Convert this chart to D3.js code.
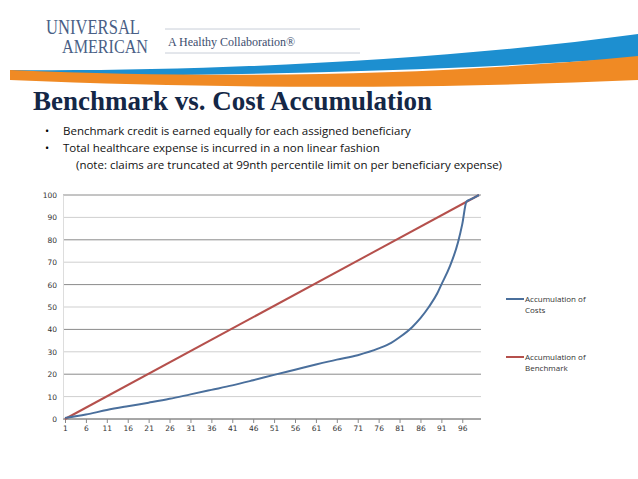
<!DOCTYPE html>
<html>
<head>
<meta charset="utf-8">
<script src="https://d3js.org/d3.v7.min.js"></script>
<style>
  body { margin: 0; background: #fff; }
</style>
</head>
<body>
<div id="chartHere"></div>
<script>
// data
var xTicks = [1,6,11,16,21,26,31,36,41,46,51,56,61,66,71,76,81,86,91,96];
var costX = [1,6,11,16,21,26,31,36,41,46,51,56,61,66,71,76,79,81,84,86,88,90,91,93,95,96,97,98,100];
var costY = [0.5,2,4,5.7,7.3,9,11,13,15,17.3,19.7,22,24.3,26.5,28.5,31.5,34,36.5,41,45,50,56,60,68,79,87,97,98,100];
var benchX = [1,100];
var benchY = [0,100];
var yTicks = [0,10,20,30,40,50,60,70,80,90,100];
var bullets = ["Benchmark credit is earned equally for each assigned beneficiary",
               "Total healthcare expense is incurred in a non linear fashion"];

var W = 638, H = 479;
var svg = d3.select("#chartHere").append("svg").attr("width", W).attr("height", H);

// header swoosh
svg.append("path")
  .attr("d", "M10,70 C200,72 450,60 638,34 L638,58 C450,70 250,76 10,76 Z")
  .attr("fill", "#1d8fd0");
svg.append("path")
  .attr("d", "M10,70 C250,80 450,74 638,56 L638,80 C450,88 250,90 10,80 Z")
  .attr("fill", "#f08a24");
svg.append("line").attr("x1",165).attr("x2",360).attr("y1",29).attr("y2",29).attr("stroke","#c8ced8");
svg.append("line").attr("x1",165).attr("x2",360).attr("y1",53).attr("y2",53).attr("stroke","#c8ced8");
svg.append("text").attr("x",46).attr("y",34).attr("font-family","Liberation Serif").attr("font-size",20)
  .attr("textLength",94).attr("lengthAdjust","spacingAndGlyphs").attr("fill","#4a5f86").text("UNIVERSAL");
svg.append("text").attr("x",62).attr("y",53).attr("font-family","Liberation Serif").attr("font-size",18)
  .attr("textLength",86).attr("lengthAdjust","spacingAndGlyphs").attr("fill","#4a5f86").text("AMERICAN");
svg.append("text").attr("x",168).attr("y",46).attr("font-family","Liberation Serif").attr("font-size",12)
  .attr("fill","#3c4e6e").text("A Healthy Collaboration\u00AE");

svg.append("text").attr("x",33).attr("y",110).attr("font-family","Liberation Serif").attr("font-weight","bold")
  .attr("font-size",27).attr("fill","#142746").text("Benchmark vs. Cost Accumulation");

bullets.forEach(function(b,i){
  svg.append("text").attr("x",45).attr("y",135+i*17).attr("font-family","Open Sans").attr("font-size",11).text("\u2022");
  svg.append("text").attr("x",63).attr("y",135+i*17).attr("font-family","Open Sans").attr("font-size",11.5)
    .attr("fill","#111").text(b);
});
svg.append("text").attr("x",76).attr("y",169).attr("font-family","Open Sans").attr("font-size",11.5)
  .attr("fill","#111").text("(note: claims are truncated at 99nth percentile limit on per beneficiary expense)");

// chart
var pLeft = 63, pRight = 481, pTop = 195, pBottom = 419;
var x = d3.scaleLinear().domain([1,100]).range([65, 479]);
var y = d3.scaleLinear().domain([0,100]).range([pBottom, pTop]);

svg.selectAll("line.grid").data(yTicks).enter().append("line")
  .attr("class","grid")
  .attr("x1", pLeft).attr("x2", pRight)
  .attr("y1", function(d){ return y(d); }).attr("y2", function(d){ return y(d); })
  .attr("stroke", function(d){ return d%20==0 ? "#8a8a8a" : "#cfcfcf"; });

var yAxis = svg.append("g").attr("transform","translate(" + pLeft + ",0)")
  .call(d3.axisLeft(y).tickValues(yTicks).tickSize(0).tickPadding(6));
yAxis.select(".domain").attr("stroke","#ddd");
yAxis.selectAll("text").attr("font-family","DejaVu Sans").attr("font-size",7.5).attr("fill","#333");

var xAxis = svg.append("g").attr("transform","translate(0," + pBottom + ")")
  .call(d3.axisBottom(x).tickValues(xTicks).tickSize(4).tickFormat(d3.format("d")));
xAxis.select(".domain").attr("d","M" + pLeft + ",0H" + pRight).attr("stroke","#888");
xAxis.selectAll("line").attr("stroke","#888");
xAxis.selectAll("text").attr("font-family","DejaVu Sans").attr("font-size",7.5).attr("fill","#333");

var line = d3.line().x(function(d){ return x(d[0]); }).y(function(d){ return y(d[1]); });
var lineC = d3.line().curve(d3.curveMonotoneX).x(function(d){ return x(d[0]); }).y(function(d){ return y(d[1]); });

svg.append("path").datum(d3.zip(benchX, benchY)).attr("d", line)
  .attr("fill","none").attr("stroke","#b5504c").attr("stroke-width",2);
svg.append("path").datum(d3.zip(costX, costY)).attr("d", lineC)
  .attr("fill","none").attr("stroke","#4a6f9c").attr("stroke-width",2);

// legend
var legend = [["Accumulation of","Costs","#4a6f9c",299],["Accumulation of","Benchmark","#b5504c",357]];
legend.forEach(function(l){
  svg.append("line").attr("x1",506).attr("x2",524).attr("y1",l[3]).attr("y2",l[3])
    .attr("stroke",l[2]).attr("stroke-width",2);
  svg.append("text").attr("x",525).attr("y",l[3]+3).attr("font-family","Open Sans").attr("font-size",8).attr("fill","#333").text(l[0]);
  svg.append("text").attr("x",525).attr("y",l[3]+14).attr("font-family","Open Sans").attr("font-size",8).attr("fill","#333").text(l[1]);
});
</script>
</body>
</html>
